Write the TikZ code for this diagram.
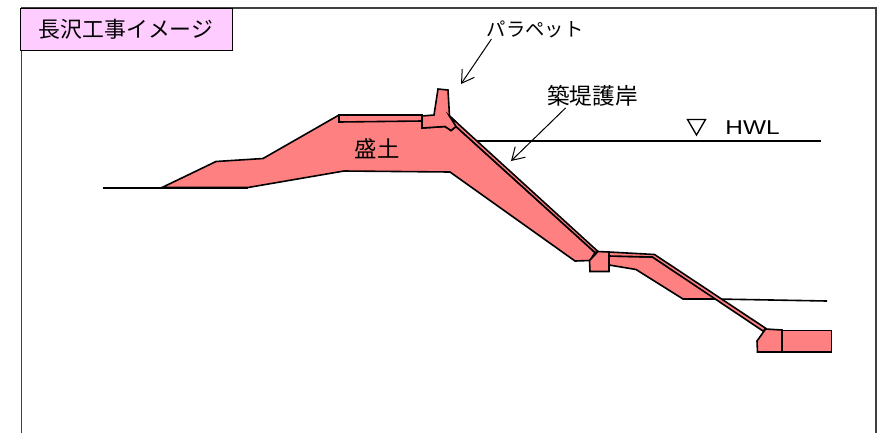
\documentclass[tikz,border=0pt]{standalone}
\usepackage{fontspec}
\setmainfont{Liberation Sans}
\newfontfamily\jpfont{Noto Sans CJK JP}
\usetikzlibrary{arrows.meta}
\definecolor{bankred}{RGB}{255,128,128}
\definecolor{titlepink}{RGB}{255,204,255}
\tikzset{every picture/.style={line width=0.75pt}}
\tikzset{
  bank/.style={draw=black,fill=bankred,line width=1.2pt,line join=miter},
  seam/.style={draw=black,line width=1.2pt},
  leader/.style={draw=black,line width=0.75pt,-{Straight Barb[length=9pt,width=11pt,line width=0.75pt]}},
  jplabel/.style={inner sep=0.75pt,font=\jpfont\fontsize{#1}{#1}\selectfont},
  jplabel/.default=16.4pt
}

\begin{document}
\begin{tikzpicture}[x=0.75pt,y=0.75pt,yscale=-1,xscale=1]
    \useasboundingbox (0,0) rectangle (877,433);

    %Shape: Frame
    \draw [color={rgb, 255:red, 64; green, 64; blue, 64}, line width=1pt]  (21.5,433) -- (21.5,8) -- (876,8) -- (876,433) ;

    %Straight Lines: ground and water
    \draw [seam]  (103,188) -- (248,188) ;
    \draw [seam]  (477,141) -- (821,141) ;
    \draw [seam]  (716,299) -- (827,301) ;

    %Shape: Embankment
    \draw [bank]  (162,187.5) -- (216,161.5) -- (263,158.5) -- (339,115) -- (422,115) -- (422,128) -- (445,126.5) -- (451,130.5) -- (456,126.5) -- (595,252.5) -- (590,260.5) -- (575,261) -- (450,172) -- (344,171) -- (248,187.5) -- cycle ;
    %Shape: Crest strip
    \draw [bank]  (339,115) -- (422,115) -- (422,121) -- (339,122) -- cycle ;
    %Shape: Parapet
    \draw [bank]  (422,116) -- (434,115) -- (438,89) -- (448,90) -- (449.5,116) -- (456,122) -- (456,126.5) -- (451,130.5) -- (445,126.5) -- (422,128) -- cycle ;
    %Shape: Revetment
    \draw [bank]  (449.5,116) -- (598,251.5) -- (595,252.5) -- (456,126.5) -- cycle ;
    %Shape: Lower bank
    \draw [bank]  (609,256) -- (652.5,257) -- (716,299) -- (683,299) -- (636,269.5) -- (609,265) -- cycle ;
    %Shape: Lower revetment
    \draw [bank]  (609,252) -- (654.5,254.5) -- (766,328.5) -- (763,331) -- (652.5,257) -- (609,256) -- cycle ;
    %Shape: Berm block
    \draw [bank]  (598,251.5) -- (609,252) -- (609,271.5) -- (590,271.5) -- (589.5,260.5) -- cycle ;
    %Shape: Toe block
    \draw [bank]  (765.5,329) -- (782,330) -- (782,352) -- (757.5,352) -- (757,341) -- cycle ;
    %Shape: Foot protection
    \draw [bank]  (782,330.5) -- (831.5,330.5) -- (831.5,352) -- (782,352) -- cycle ;

    %Shape: Water mark
    \draw [line width=1pt]  (687.5,119.5) -- (705.5,119.5) -- (696.5,135) -- cycle ;

    % Text Node
    \draw (126,29) node (title) [draw=black,fill=titlepink,line width=0.75pt,minimum width=159pt,minimum height=31.5pt,inner sep=0pt,jplabel] {長沢工事イメージ};
    % Text Node
    \draw (535,29) node (parapet) [jplabel=14.5pt] {パラペット};
    % Text Node
    \draw (592.5,96) node (revetment) [jplabel=17pt] {築堤護岸};
    % Text Node
    \draw (377,149) node (fill) [jplabel=16.8pt] {盛土};
    % Text Node
    \draw (752.5,128) node (hwl) [inner sep=0.75pt,xscale=1.22,font=\fontsize{15}{15}\selectfont] {HWL};

    \coordinate (parapetTip) at (461,84);
    \coordinate (revetmentTip) at (511,161);
    %Straight Lines
    \draw [leader]  (parapet.193) -- (parapetTip) ;
    \draw [leader]  (revetment.204) -- (revetmentTip) ;
\end{tikzpicture}
\end{document}
